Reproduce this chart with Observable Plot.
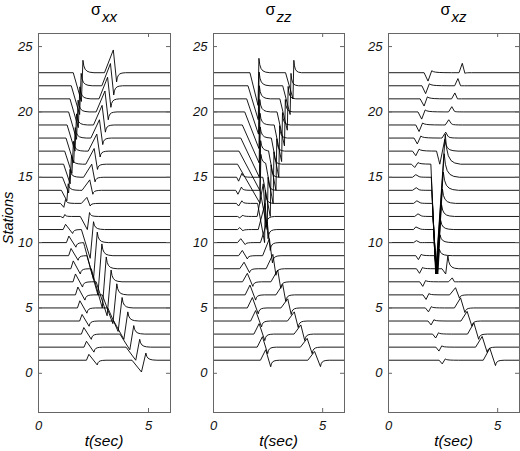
<!DOCTYPE html>
<html><head><meta charset="utf-8">
<script src="https://cdn.jsdelivr.net/npm/d3@7"></script>
<script src="https://cdn.jsdelivr.net/npm/@observablehq/plot@0.6"></script>
<style>
body{margin:0;background:#fff;}
#wrap{position:relative;width:520px;height:451px;overflow:hidden;background:#fff;}
#wrap svg{position:absolute;top:0;}
</style></head><body><div id="wrap"></div><script>
// stations and tick labels
const stations = d3.range(1, 24);
const yTicks = [0, 5, 10, 15, 20, 25];
const xTicks = [0, 5];
const titles = [["σ", "xx"], ["σ", "zz"], ["σ", "xz"]];
const xLabel = "t(sec)";
const yLabel = "Stations";

// pulse events: [station, tStart, tExtreme, vExtreme, tPeak, vPeak, decay]
const sxxEvents = [
  [23,1.58,1.95,-2.2,2.02,0.95,0.5],[22,1.49,1.87,-2.2,1.94,0.95,0.5],[21,1.43,1.81,-2.2,1.88,0.92,0.5],
  [20,1.37,1.73,-2.1,1.80,0.90,0.5],[19,1.30,1.66,-2.0,1.73,0.85,0.5],[18,1.25,1.60,-1.9,1.67,0.80,0.5],
  [17,1.19,1.52,-1.7,1.59,0.75,0.5],[16,1.14,1.44,-1.5,1.50,0.67,0.5],[15,1.09,1.37,-1.2,1.43,0.60,0.5],
  [14,1.04,1.29,-0.8,1.35,0.50,0.5],[13,1.00,1.15,-0.3,1.23,0.30,0.4],[12,1.00,1.12,-0.1,1.20,0.15,0.3],
  [23,3.00,3.40,1.74,3.55,-0.70,0.4],[22,2.88,3.27,1.70,3.42,-0.70,0.4],[21,2.75,3.14,1.65,3.29,-0.65,0.4],
  [20,2.62,3.02,1.60,3.17,-0.60,0.4],[19,2.50,2.89,1.50,3.04,-0.55,0.4],[18,2.38,2.77,1.40,2.92,-0.50,0.4],
  [17,2.26,2.65,1.30,2.80,-0.45,0.4],[16,2.15,2.53,1.20,2.68,-0.40,0.4],[15,2.05,2.42,1.00,2.57,-0.35,0.4],
  [14,1.98,2.33,0.80,2.47,-0.30,0.4],[13,1.95,2.20,0.46,2.35,-0.20,0.4],
  [11,1.12,1.23,0.40,1.55,-0.30,0.4],[10,1.27,1.38,0.50,1.70,-0.35,0.4],[9,1.37,1.48,0.55,1.80,-0.35,0.4],
  [8,1.47,1.58,0.60,1.90,-0.40,0.4],[7,1.57,1.68,0.60,2.00,-0.40,0.4],[6,1.68,1.79,0.60,2.11,-0.40,0.4],
  [5,1.77,1.88,0.55,2.20,-0.40,0.4],[4,1.87,1.98,0.50,2.30,-0.40,0.4],[3,1.95,2.06,0.50,2.40,-0.40,0.4],
  [2,2.07,2.18,0.45,2.52,-0.38,0.4],[1,2.18,2.29,0.45,2.67,-0.36,0.4],
  [12,1.90,2.22,-1.0,2.32,0.30,0.4],[11,1.95,2.35,-2.2,2.50,0.60,0.5],[10,2.05,2.50,-2.8,2.67,0.80,0.5],
  [9,2.20,2.70,-3.0,2.88,0.90,0.5],[8,2.40,2.90,-3.0,3.08,0.90,0.5],[7,2.62,3.12,-2.6,3.30,0.90,0.5],
  [6,2.90,3.38,-2.2,3.56,0.85,0.5],[5,3.15,3.62,-1.8,3.80,0.80,0.5],[4,3.42,3.88,-1.4,4.06,0.70,0.5],
  [3,3.70,4.15,-1.2,4.33,0.65,0.5],[2,3.98,4.42,-1.0,4.60,0.60,0.5],[1,4.25,4.68,-0.9,4.88,0.55,0.5]
];
const szzEvents = [
  [23,1.67,2.04,-2.5,2.08,1.10,0.5],[22,1.58,2.05,-2.6,2.09,1.05,0.5],[21,1.52,2.06,-2.7,2.10,1.00,0.5],
  [20,1.43,2.08,-2.8,2.12,0.95,0.5],[19,1.32,2.09,-2.9,2.13,0.90,0.5],[18,1.25,2.10,-3.0,2.14,0.85,0.5],
  [17,1.17,2.12,-3.0,2.16,0.80,0.5],[16,1.10,2.13,-3.0,2.17,0.75,0.5],
  [15,1.06,1.15,-0.30,1.30,0.30,0.4],[14,1.02,1.12,-0.30,1.28,0.25,0.4],[13,1.05,1.15,-0.20,1.30,0.20,0.4],
  [12,1.10,1.20,-0.10,1.35,0.10,0.4],
  [11,1.10,1.20,0.15,1.35,-0.10,0.4],[10,1.10,1.25,0.30,1.45,-0.15,0.4],[9,1.15,1.32,0.40,1.55,-0.25,0.4],
  [8,1.20,1.40,0.50,1.65,-0.30,0.4],[7,1.33,1.55,0.65,1.80,-0.35,0.4],[6,1.45,1.67,0.75,1.93,-0.40,0.4],
  [5,1.55,1.78,0.80,2.05,-0.45,0.4],[4,1.70,1.93,0.80,2.20,-0.45,0.4],[3,1.85,2.09,0.80,2.35,-0.50,0.4],
  [2,2.00,2.24,0.80,2.48,-0.50,0.4],[1,2.15,2.39,0.80,2.62,-0.50,0.4],
  [23,3.30,3.64,-2.0,3.68,0.95,0.35],[22,3.17,3.51,-2.2,3.55,0.95,0.35],[21,3.04,3.38,-2.4,3.42,0.95,0.35],
  [20,2.91,3.25,-2.6,3.29,0.95,0.35],[19,2.78,3.12,-2.8,3.16,0.95,0.35],[18,2.65,2.99,-3.0,3.03,0.95,0.35],
  [17,2.52,2.86,-3.0,2.90,0.95,0.35],[16,2.39,2.73,-3.0,2.77,0.95,0.35],[15,2.26,2.60,-3.0,2.64,0.95,0.35],
  [14,2.13,2.46,-3.0,2.50,1.00,0.35],[13,2.02,2.34,-3.0,2.38,1.00,0.35],
  [12,2.00,2.28,2.5,2.40,-0.8,0.4],[11,2.05,2.36,2.0,2.50,-0.7,0.4],[10,2.15,2.46,1.6,2.60,-0.6,0.4],
  [9,2.25,2.56,1.3,2.70,-0.55,0.4],[8,2.41,2.72,1.1,2.86,-0.5,0.4],[7,2.63,2.94,0.9,3.08,-0.5,0.4],
  [6,2.86,3.17,0.8,3.31,-0.5,0.4],[5,3.09,3.40,0.7,3.56,-0.5,0.4],[4,3.39,3.70,0.7,3.88,-0.5,0.4],
  [3,3.69,4.00,0.7,4.18,-0.5,0.4],[2,3.98,4.29,0.67,4.52,-0.5,0.4],[1,4.32,4.63,0.67,4.90,-0.49,0.4]
];
const sxzEvents = [
  [23,1.63,1.81,-0.64,1.98,0.15,0.9],[22,1.53,1.70,-0.60,1.87,0.15,0.9],[21,1.45,1.63,-0.55,1.78,0.15,0.9],
  [20,1.35,1.52,-0.55,1.68,0.15,0.9],[19,1.25,1.40,-0.50,1.56,0.15,0.9],[18,1.17,1.32,-0.45,1.48,0.15,0.9],
  [17,1.10,1.25,-0.35,1.40,0.15,0.9],[16,1.05,1.20,-0.25,1.35,0.12,0.9],
  [15,1.10,1.25,0.20,1.40,0.05,0.5],[14,1.10,1.27,0.20,1.40,0.05,0.5],[13,1.15,1.30,0.20,1.45,0.05,0.5],
  [12,1.20,1.35,0.20,1.50,0.05,0.5],[11,1.15,1.25,0.20,1.45,0.05,0.5],[10,1.15,1.28,0.15,1.45,0.00,0.5],
  [9,1.25,1.37,-0.30,1.50,0.10,0.6],[8,1.28,1.42,-0.35,1.56,0.10,0.6],[7,1.43,1.57,-0.35,1.70,0.10,0.6],
  [6,1.58,1.72,-0.35,1.85,0.10,0.6],[5,1.69,1.83,-0.30,1.96,0.10,0.6],[4,1.81,1.95,-0.30,2.08,0.10,0.6],
  [3,2.02,2.16,-0.30,2.29,0.10,0.6],[2,2.17,2.31,-0.30,2.44,0.10,0.6],[1,2.32,2.46,-0.28,2.60,0.10,0.6],
  [23,3.23,3.38,0.72,3.50,-0.05,0.3],[22,3.03,3.18,0.55,3.30,0.00,0.3],[21,2.89,3.04,0.45,3.16,0.00,0.3],
  [20,2.75,2.90,0.40,3.02,0.05,0.4],[19,2.60,2.76,0.40,2.88,0.10,0.5],[18,2.45,2.62,0.45,2.72,0.15,0.5],
  [17,2.20,2.35,-1.00,2.58,0.90,0.6],
  [16,1.94,2.16,-8.4,2.60,2.30,0.7],[15,1.96,2.17,-7.4,2.55,1.80,0.7],[14,1.98,2.18,-6.4,2.51,1.40,0.7],
  [13,2.01,2.19,-5.4,2.47,1.10,0.6],[12,2.03,2.21,-4.4,2.43,0.90,0.6],[11,2.06,2.22,-3.4,2.39,0.70,0.6],
  [10,2.08,2.24,-2.4,2.36,0.60,0.6],[9,2.10,2.26,-1.4,2.33,0.50,0.6],
  [8,2.45,2.62,-0.40,2.72,1.00,0.5],[7,2.75,2.92,0.30,3.02,0.00,0.3],
  [6,2.80,3.07,0.55,3.25,-0.25,0.4],[5,3.02,3.30,0.77,3.50,-0.35,0.4],[4,3.32,3.60,0.74,3.82,-0.40,0.4],
  [3,3.62,3.91,0.85,4.13,-0.40,0.4],[2,3.99,4.29,0.82,4.52,-0.40,0.4],[1,4.34,4.64,0.92,4.90,-0.41,0.4]
];
// decay shape after a pulse peak: [fraction of decay time, fraction of peak]
const decayShape = [[0,1],[0.08,0.55],[0.2,0.28],[0.38,0.12],[0.62,0.04],[1,0]];

function pulse(e) {
  const [s, ts, tm, vm, tp, vp, dec] = e;
  return [[ts, 0], [tm, vm]].concat(decayShape.map(([f, g]) => [tp + f * dec, vp * g]));
}
function valueAt(pts, t) {
  if (t <= pts[0][0] || t >= pts[pts.length - 1][0]) return 0;
  for (let i = 1; i < pts.length; i++) {
    if (t <= pts[i][0]) {
      const [t0, v0] = pts[i - 1], [t1, v1] = pts[i];
      return t1 === t0 ? v1 : v0 + (v1 - v0) * (t - t0) / (t1 - t0);
    }
  }
  return 0;
}
function traces(events) {
  const rows = [];
  for (const s of stations) {
    const ps = events.filter(e => e[0] === s).map(pulse);
    const times = new Set([0, 6]);
    ps.forEach(p => p.forEach(q => times.add(q[0])));
    [...times].sort((a, b) => a - b).forEach(t => rows.push({s, t, v: s + d3.sum(ps, p => valueAt(p, t))}));
  }
  return rows;
}

const panels = [
  {events: sxxEvents, left: 0, width: 172, ml: 38, mr: 2},
  {events: szzEvents, left: 172, width: 174, ml: 41, mr: 2},
  {events: sxzEvents, left: 346, width: 174, ml: 42, mr: 1}
];
const H = 451, MT = 33, MB = 39;
const wrap = document.getElementById("wrap");
const font = "'Liberation Sans', Arial, Helvetica, sans-serif";

panels.forEach((p, i) => {
  const fw = p.width - p.ml - p.mr, fh = H - MT - MB;
  const svg = Plot.plot({
    width: p.width, height: H,
    marginLeft: p.ml, marginRight: p.mr, marginTop: MT, marginBottom: MB,
    x: {domain: [0, 6], label: null},
    y: {domain: [-3, 26], label: null},
    style: {fontFamily: font, fontStyle: "italic", fontSize: "13px", color: "#111", background: "transparent"},
    marks: [
      Plot.line(traces(p.events), {x: "t", y: "v", z: "s", stroke: "#000", strokeWidth: 0.9, curve: "linear"}),
      Plot.frame({stroke: "#666"}),
      Plot.tickY(yTicks, {y: d => d, insetRight: fw - 4, stroke: "#666"}),
      Plot.tickY(yTicks, {y: d => d, insetLeft: fw - 4, stroke: "#666"}),
      Plot.tickX(xTicks, {x: d => d, insetTop: fh - 4, stroke: "#666"}),
      Plot.tickX(xTicks, {x: d => d, insetBottom: fh - 4, stroke: "#666"}),
      Plot.axisY(yTicks, {anchor: "left", tickSize: 0, tickPadding: 6, label: null, fontSize: 13}),
      Plot.axisX(xTicks, {anchor: "bottom", tickSize: 0, tickPadding: 8, label: null, fontSize: 13})
    ]
  });
  svg.style.left = p.left + "px";
  wrap.appendChild(svg);
});

// overlay text: titles and axis titles
const ov = d3.select(wrap).append("svg")
  .attr("width", 520).attr("height", H)
  .style("left", "0px").style("font-family", font);
const frames = panels.map(p => [p.left + p.ml, p.left + p.width - p.mr]);
frames.forEach(([a, b], i) => {
  const cx = (a + b) / 2;
  const t = ov.append("text").attr("x", cx).attr("y", 14.5).attr("text-anchor", "middle").attr("fill", "#000");
  t.append("tspan").attr("font-size", 16).text(titles[i][0]);
  t.append("tspan").attr("font-size", 15).attr("font-style", "italic").attr("dy", 7.5).attr("dx", 1).text(titles[i][1]);
  ov.append("text").attr("x", cx).attr("y", 446).attr("text-anchor", "middle")
    .attr("font-size", 15.5).attr("font-style", "italic").attr("fill", "#000").text(xLabel);
});
ov.append("text").attr("transform", "translate(13,218) rotate(-90)").attr("text-anchor", "middle")
  .attr("font-size", 14.5).attr("font-style", "italic").attr("fill", "#000").text(yLabel);
</script></body></html>
